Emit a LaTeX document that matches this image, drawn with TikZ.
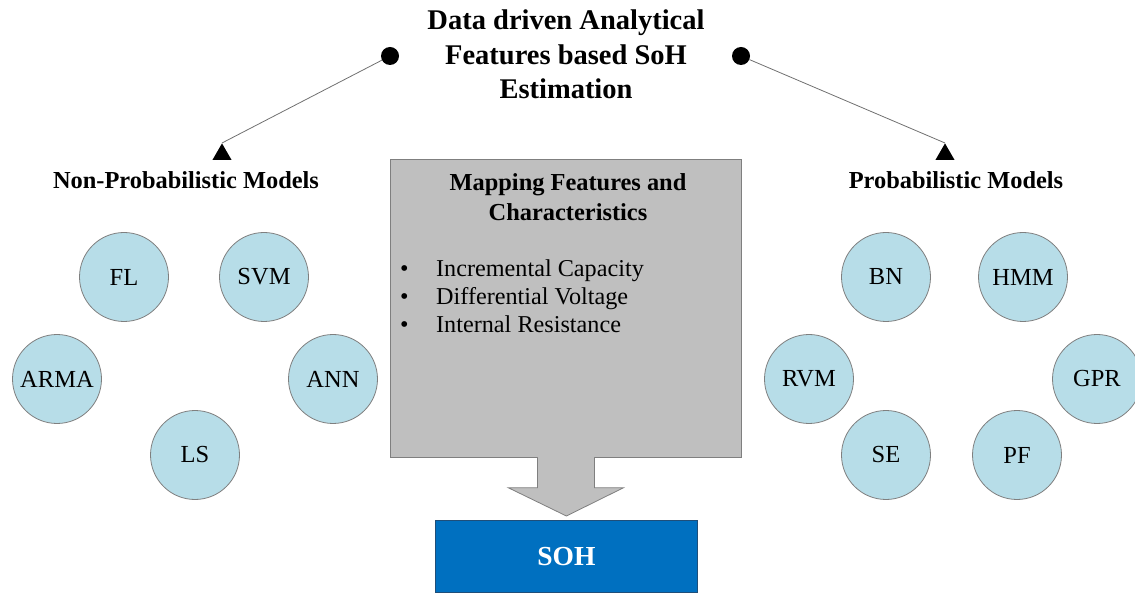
\documentclass[tikz,border=0pt]{standalone}
\usepackage{fontspec}
\setmainfont{Liberation Serif}
\usetikzlibrary{shapes.geometric,calc}
\definecolor{circfill}{HTML}{B7DDE8}
\definecolor{circline}{HTML}{7F7F7F}
\definecolor{boxfill}{HTML}{BFBFBF}
\definecolor{boxline}{HTML}{7F7F7F}
\definecolor{sohfill}{HTML}{0070C0}
\definecolor{sohline}{HTML}{1F4E79}
\definecolor{linkcol}{HTML}{707070}
\begin{document}
\begin{tikzpicture}[x=1pt,y=-1pt,
  model/.style={circle,draw=circline,fill=circfill,line width=0.8pt,minimum size=89pt,inner sep=0pt,font=\fontsize{24.5}{28}\selectfont},
  heading/.style={font=\fontsize{24.4}{30}\selectfont\bfseries,align=center,inner sep=0pt},
  dotnode/.style={circle,fill=black,minimum size=18pt,inner sep=0pt},
  trinode/.style={regular polygon,regular polygon sides=3,fill=black,minimum size=22pt,inner sep=0pt},
  link/.style={draw=linkcol,line width=0.8pt},
  mapbox/.style={draw=boxline,fill=boxfill,line width=0.8pt,inner sep=0pt},
  sohbox/.style={draw=sohline,fill=sohfill,line width=0.8pt,inner sep=0pt,text=white,font=\fontsize{27.5}{32}\selectfont\bfseries}
]
\useasboundingbox (0,0) rectangle (1135,593);

% title (base anchor = last line baseline)
\node[font=\fontsize{28.5}{34.5}\selectfont\bfseries,align=center,inner sep=0pt,anchor=base] (title) at (566,99) {Data driven Analytical\\Features based SoH\\Estimation};

% dots and triangles
\node[dotnode] (dotL) at (390,56) {};
\node[dotnode] (dotR) at (741,56) {};
\node[trinode,anchor=corner 1] (triL) at (222,143) {};
\node[trinode,anchor=corner 1] (triR) at (945,143) {};
\draw[link] (dotL) -- (triL.corner 1);
\draw[link] (dotR) -- (triR.corner 1);

% headings
\node[heading,anchor=base] (nonprob) at (186,189) {Non-Probabilistic Models};
\node[heading,anchor=base] (prob) at (956,189) {Probabilistic Models};

% mapping box
\node[mapbox,anchor=north west,minimum width=351pt,minimum height=298pt] (map) at (390,159) {};
\node[heading,anchor=base] (maptitle) at (568,221) {Mapping Features and\\Characteristics};
\node[font=\fontsize{24.2}{28}\selectfont,align=left,inner sep=0pt,anchor=base west] (feat) at (400,333)
  {\makebox[36pt][l]{\textbullet}Incremental Capacity\\\makebox[36pt][l]{\textbullet}Differential Voltage\\\makebox[36pt][l]{\textbullet}Internal Resistance};

% SOH box
\node[sohbox,anchor=north west,minimum width=262pt,minimum height=72pt] (soh) at (435,520) {SOH};

% block arrow from map to soh
\fill[boxfill] ($(map.south)+(-28.1,-1)$) -- ($(map.south)+(-28.5,30)$) -- ($(map.south)+(-57.5,30)$)
  -- ($(soh.north)+(0,-4)$) -- ($(map.south)+(57.5,30)$) -- ($(map.south)+(28.5,30)$) -- ($(map.south)+(28.1,-1)$) -- cycle;
\draw[draw=boxline,line width=0.8pt,line join=miter] ($(map.south)+(-28.5,0)$) -- ($(map.south)+(-28.5,30)$) -- ($(map.south)+(-57.5,30)$)
  -- ($(soh.north)+(0,-4)$) -- ($(map.south)+(57.5,30)$) -- ($(map.south)+(28.5,30)$) -- ($(map.south)+(28.5,0)$);

% non-probabilistic models
\node[model] (fl) at (124,277) {FL};
\node[model] (svm) at (264,277) {SVM};
\node[model] (arma) at (57,379) {ARMA};
\node[model] (ann) at (333,379) {ANN};
\node[model] (ls) at (195,455) {LS};

% probabilistic models
\node[model] (bn) at (886,277) {BN};
\node[model] (hmm) at (1023,277) {HMM};
\node[model] (rvm) at (809,379) {RVM};
\node[model] (gpr) at (1097,379) {GPR};
\node[model] (se) at (886,455) {SE};
\node[model] (pf) at (1017,455) {PF};
\end{tikzpicture}
\end{document}
